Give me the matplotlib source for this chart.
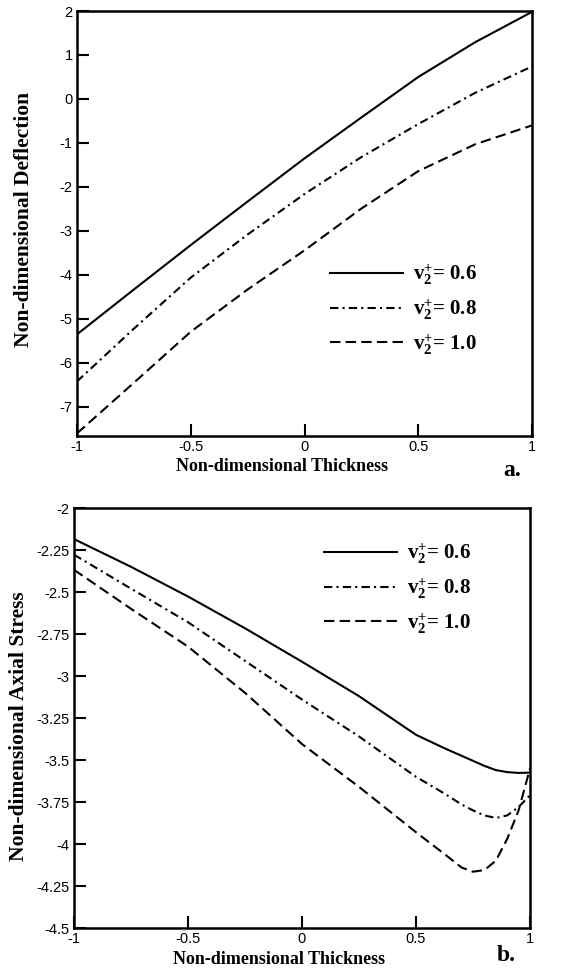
# plot_thickness_profiles.py

import matplotlib
matplotlib.use("Agg")
import matplotlib.pyplot as plt

OUTPUT_FILE = "out.png"

# ---- data ----
labels = [r"$\mathbf{v}_{\mathbf{2}}^{\mathbf{+}}$= 0.6",
          r"$\mathbf{v}_{\mathbf{2}}^{\mathbf{+}}$= 0.8",
          r"$\mathbf{v}_{\mathbf{2}}^{\mathbf{+}}$= 1.0"]

# (a) deflection
x_defl = [-1.0, -0.75, -0.5, -0.25, 0.0, 0.25, 0.5, 0.75, 1.0]
defl_06 = [-5.35, -4.33, -3.32, -2.33, -1.35, -0.42, 0.50, 1.29, 1.98]
defl_08 = [-6.42, -5.22, -4.06, -3.08, -2.16, -1.32, -0.57, 0.14, 0.74]
defl_10 = [-7.60, -6.45, -5.29, -4.33, -3.44, -2.49, -1.64, -1.03, -0.60]

# (b) axial stress
x_stress = [-1.0, -0.75, -0.5, -0.25, 0.0, 0.25, 0.5, 0.625, 0.7, 0.75,
            0.8, 0.85, 0.9, 0.95, 1.0]
stress_06 = [-2.185, -2.35, -2.527, -2.716, -2.915, -3.12, -3.35, -3.43,
             -3.475, -3.505, -3.535, -3.56, -3.572, -3.577, -3.575]
stress_08 = [-2.278, -2.48, -2.68, -2.91, -3.14, -3.36, -3.60, -3.70,
             -3.765, -3.80, -3.83, -3.845, -3.83, -3.78, -3.71]
stress_10 = [-2.368, -2.60, -2.825, -3.10, -3.405, -3.66, -3.93, -4.06,
             -4.14, -4.165, -4.155, -4.10, -3.97, -3.80, -3.55]

styles = ["-", (0, (4, 2, 1, 2)), (0, (5, 2.5))]

plt.rcParams["mathtext.fontset"] = "custom"
plt.rcParams["mathtext.rm"] = "Liberation Serif:bold"
plt.rcParams["mathtext.bf"] = "Liberation Serif:bold"
plt.rcParams["mathtext.it"] = "Liberation Serif:bold"

TICK_FONT = {"family": "Liberation Sans", "size": 10.5}
XLABEL_FONT = {"family": "Liberation Serif", "size": 13, "weight": "bold"}
YLABEL_FONT = {"family": "Liberation Serif", "size": 15.5, "weight": "bold"}
LEGEND_FONT = {"family": "Liberation Serif", "size": 15, "weight": "bold"}


def style_axes(ax, yticks, yticklabels):
    ax.set_xlim(-1, 1)
    ax.set_xticks([-1, -0.5, 0, 0.5, 1])
    ax.set_xticklabels(["-1", "-0.5", "0", "0.5", "1"], fontdict=TICK_FONT)
    ax.set_yticks(yticks)
    ax.set_yticklabels(yticklabels, fontdict=TICK_FONT)
    ax.tick_params(direction="in", length=8.5, width=1.5, pad=3)
    for s in ax.spines.values():
        s.set_linewidth(1.8)
    ax.set_xlabel("Non-dimensional Thickness", fontdict=XLABEL_FONT)


fig = plt.figure(figsize=(5.62, 9.72), dpi=100)

# ---- (a) deflection ----
ax1 = fig.add_axes([77 / 562, 1 - 436 / 972, 455 / 562, 425 / 972])
for y, ls, lab in zip([defl_06, defl_08, defl_10], styles, labels):
    ax1.plot(x_defl, y, color="black", lw=1.5, linestyle=ls, label=lab)
ax1.set_ylim(-7.66, 2)
style_axes(ax1, [-7, -6, -5, -4, -3, -2, -1, 0, 1, 2],
           ["-7", "-6", "-5", "-4", "-3", "-2", "-1", "0", "1", "2"])
ax1.xaxis.set_label_coords((282 - 77) / 455, -0.052)
ax1.set_ylabel("Non-dimensional Deflection", fontdict=YLABEL_FONT)
ax1.yaxis.set_label_coords((34 - 77) / 455, 0.51)
ax1.legend(frameon=False, loc="upper left", bbox_to_anchor=(0.556, 0.408),
           prop=LEGEND_FONT, handlelength=3.5, handletextpad=0.5,
           labelspacing=0.47, borderpad=0, borderaxespad=0)
fig.text(503 / 562, 1 - 470 / 972, "a.", family="Liberation Serif",
         weight="bold", size=17, ha="left", va="center")

# ---- (b) axial stress ----
ax2 = fig.add_axes([74 / 562, 1 - 928 / 972, 456 / 562, 420 / 972])
for y, ls, lab in zip([stress_06, stress_08, stress_10], styles, labels):
    ax2.plot(x_stress, y, color="black", lw=1.5, linestyle=ls, label=lab)
ax2.set_ylim(-4.5, -2)
style_axes(ax2, [-4.5, -4.25, -4, -3.75, -3.5, -3.25, -3, -2.75, -2.5, -2.25, -2],
           ["-4.5", "-4.25", "-4", "-3.75", "-3.5", "-3.25", "-3", "-2.75",
            "-2.5", "-2.25", "-2"])
ax2.xaxis.set_label_coords((279 - 74) / 456, -0.055)
ax2.set_ylabel("Non-dimensional Axial Stress", fontdict=YLABEL_FONT)
ax2.yaxis.set_label_coords((29 - 74) / 456, 0.48)
ax2.legend(frameon=False, loc="upper left", bbox_to_anchor=(0.548, 0.92),
           prop=LEGEND_FONT, handlelength=3.5, handletextpad=0.5,
           labelspacing=0.47, borderpad=0, borderaxespad=0)
fig.text(497 / 562, 1 - 955 / 972, "b.", family="Liberation Serif",
         weight="bold", size=17, ha="left", va="center")

fig.savefig(OUTPUT_FILE, dpi=100)
plt.close(fig)
